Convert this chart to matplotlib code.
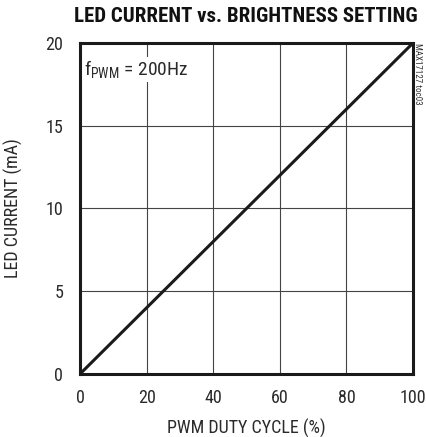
import matplotlib
matplotlib.use("Agg")
import matplotlib.pyplot as plt

plt.rcParams['font.family'] = ['Roboto Condensed', 'Archivo Narrow', 'DejaVu Sans']

# data
duty = [0, 20, 40, 60, 80, 100]
current = [0, 4, 8, 12, 16, 20]
x_ticks = [0, 20, 40, 60, 80, 100]
y_ticks = [0, 5, 10, 15, 20]

fig = plt.figure(figsize=(4.26, 4.37), dpi=100)
ax = fig.add_axes([0.1878, 0.1442, 0.7817, 0.7574])

ax.plot(duty, current, color='#1a1a1a', lw=2.2, solid_capstyle='butt', zorder=3)

ax.set_xlim(0, 100)
ax.set_ylim(0, 20)
ax.set_xticks(x_ticks)
ax.set_yticks(y_ticks)
ax.grid(True, color='#444444', lw=0.8)
ax.tick_params(length=0, labelsize=13, colors='#2a2a2a')
ax.tick_params(axis='x', pad=11)
ax.tick_params(axis='y', pad=12)
for s in ax.spines.values():
    s.set_linewidth(2.2)
    s.set_color('#1a1a1a')

ax.set_xlabel('PWM DUTY CYCLE (%)', fontsize=13, color='#2a2a2a', labelpad=8)
ax.set_ylabel('LED CURRENT (mA)', fontsize=13, color='#2a2a2a', labelpad=16)
fig.text(0.578, 0.962, 'LED CURRENT vs. BRIGHTNESS SETTING', ha='center', va='center',
         fontsize=15, fontweight='bold', color='#111111')

ax.text(1.3, 18.4, r'f$_{\mathregular{PWM}}$ = 200Hz', fontsize=14, color='#2a2a2a',
        va='center', ha='left', zorder=4,
        bbox=dict(facecolor='white', edgecolor='none', pad=1.0))

fig.text(0.981, 0.902, 'MAX17127 toc03', rotation=270, ha='center', va='top',
         fontsize=6.5, color='#333333')

fig.savefig('out.png', dpi=100)
